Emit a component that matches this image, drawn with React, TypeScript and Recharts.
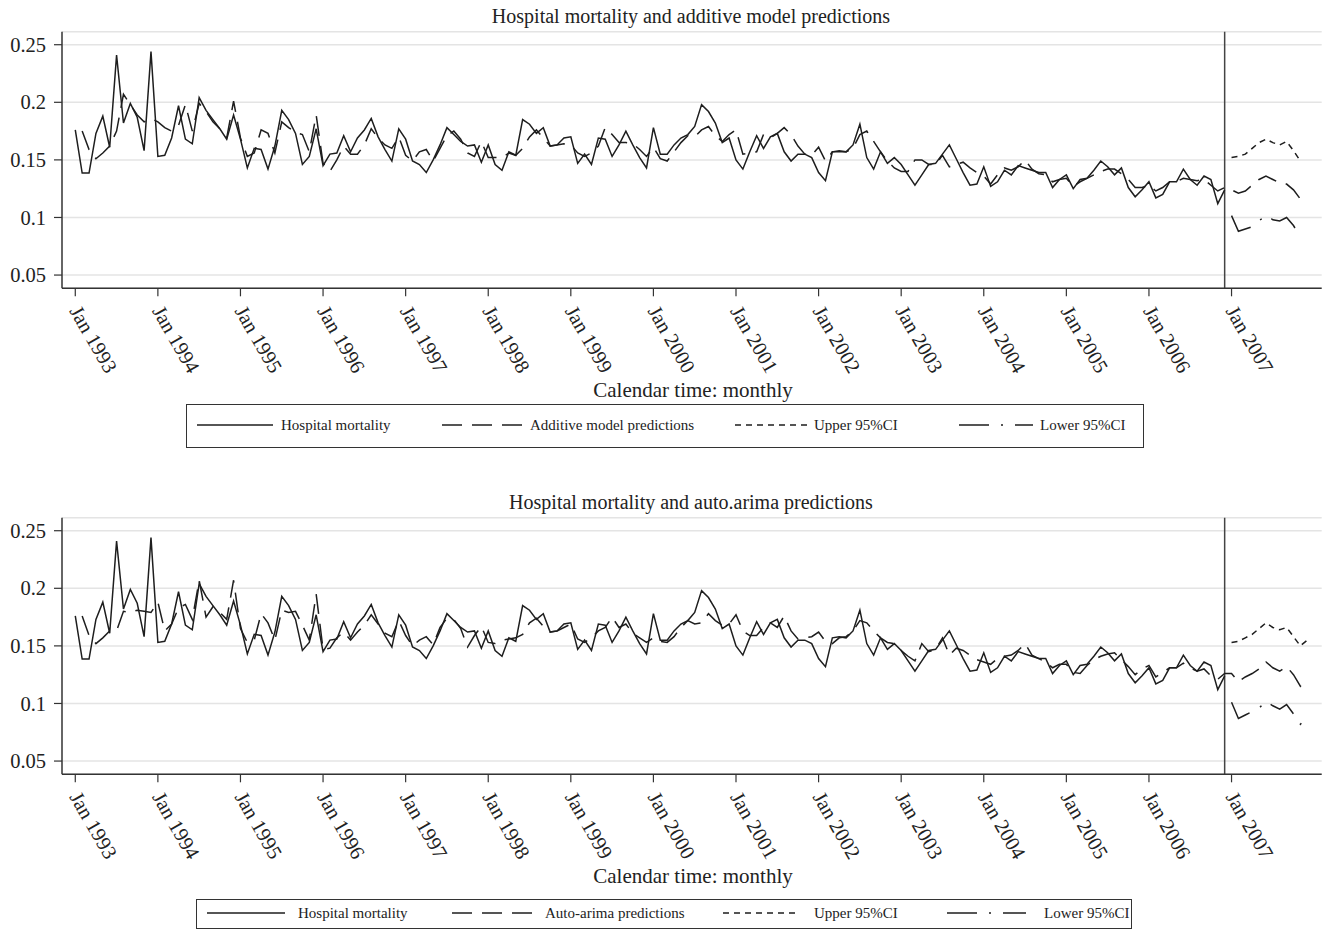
import React from 'react';
import { LineChart, Line, XAxis, YAxis, CartesianGrid, ReferenceLine } from 'recharts';

// ---------- data ----------
const tickMonthIndex = [0, 12, 24, 36, 48, 60, 72, 84, 96, 108, 120, 132, 144, 156, 168];
const tickLabels = ['Jan 1993', 'Jan 1994', 'Jan 1995', 'Jan 1996', 'Jan 1997', 'Jan 1998', 'Jan 1999', 'Jan 2000', 'Jan 2001', 'Jan 2002', 'Jan 2003', 'Jan 2004', 'Jan 2005', 'Jan 2006', 'Jan 2007'];
const yTicks = [0.05, 0.1, 0.15, 0.2, 0.25];
const yTickLabels = ['0.05', '0.1', '0.15', '0.2', '0.25'];
const forecastStart = 168;
const lastObsMonth = 167;

// Hospital mortality, Jan 1993 - Dec 2006 (monthly)
const hospitalMortality = [
  0.176, 0.1386, 0.1386, 0.173, 0.188, 0.161, 0.241, 0.182, 0.199, 0.187, 0.158, 0.244,
  0.153, 0.154, 0.169, 0.197, 0.168, 0.164, 0.204, 0.193, 0.185, 0.177, 0.168, 0.189,
  0.168, 0.143, 0.160, 0.159, 0.142, 0.162, 0.193, 0.185, 0.173, 0.146, 0.153, 0.177,
  0.145, 0.155, 0.156, 0.171, 0.157, 0.169, 0.176, 0.186, 0.170, 0.159, 0.149, 0.177,
  0.168, 0.149, 0.146, 0.139, 0.150, 0.163, 0.178, 0.172, 0.166, 0.162, 0.163, 0.148,
  0.163, 0.146, 0.141, 0.157, 0.154, 0.185, 0.181, 0.173, 0.178, 0.162, 0.163, 0.169,
  0.170, 0.147, 0.155, 0.146, 0.169, 0.168, 0.153, 0.163, 0.175, 0.163, 0.152, 0.143,
  0.178, 0.155, 0.155, 0.163, 0.169, 0.172, 0.179, 0.198, 0.192, 0.182, 0.165, 0.169,
  0.150, 0.142, 0.157, 0.171, 0.160, 0.170, 0.173, 0.157, 0.149, 0.155, 0.155, 0.152,
  0.139, 0.132, 0.157, 0.158, 0.157, 0.163, 0.181, 0.152, 0.142, 0.157, 0.147, 0.152,
  0.146, 0.137, 0.128, 0.137, 0.146, 0.147, 0.155, 0.163, 0.151, 0.139, 0.128, 0.129,
  0.144, 0.127, 0.131, 0.141, 0.137, 0.145, 0.143, 0.141, 0.139, 0.139, 0.126, 0.133,
  0.137, 0.125, 0.133, 0.134, 0.141, 0.149, 0.144, 0.137, 0.143, 0.126, 0.118, 0.124,
  0.131, 0.117, 0.120, 0.131, 0.131, 0.142, 0.133, 0.128, 0.136, 0.133, 0.112, 0.124,
];

// Additive model predictions, Feb 1993 - Nov 2007 (index 0 = Jan 1993 has none)
const additivePredictions = [
  null, 0.175, 0.159, 0.151, 0.156, 0.162, 0.175, 0.207, 0.198, 0.189, 0.183, 0.186,
  0.183, 0.178, 0.175, 0.180, 0.198, 0.175, 0.199, 0.192, 0.183, 0.177, 0.169, 0.201,
  0.169, 0.153, 0.156, 0.176, 0.173, 0.156, 0.183, 0.178, 0.174, 0.172, 0.157, 0.189,
  0.147, 0.140, 0.150, 0.162, 0.155, 0.155, 0.163, 0.177, 0.169, 0.163, 0.160, 0.170,
  0.154, 0.149, 0.157, 0.159, 0.149, 0.160, 0.171, 0.175, 0.168, 0.156, 0.153, 0.166,
  0.152, 0.152, 0.152, 0.156, 0.154, 0.160, 0.170, 0.176, 0.169, 0.162, 0.163, 0.164,
  0.163, 0.156, 0.153, 0.156, 0.162, 0.178, 0.172, 0.165, 0.165, 0.164, 0.159, 0.153,
  0.161, 0.151, 0.149, 0.157, 0.165, 0.171, 0.170, 0.176, 0.179, 0.171, 0.166, 0.172,
  0.176, 0.155, 0.156, 0.157, 0.172, 0.169, 0.173, 0.178, 0.172, 0.162, 0.155, 0.154,
  0.161, 0.149, 0.157, 0.157, 0.157, 0.160, 0.172, 0.175, 0.166, 0.157, 0.149, 0.143,
  0.140, 0.140, 0.150, 0.150, 0.146, 0.146, 0.154, 0.144, 0.146, 0.148, 0.143, 0.139,
  0.136, 0.129, 0.137, 0.143, 0.141, 0.144, 0.150, 0.142, 0.138, 0.137, 0.131, 0.133,
  0.134, 0.127, 0.131, 0.134, 0.137, 0.140, 0.142, 0.142, 0.138, 0.133, 0.126, 0.126,
  0.128, 0.123, 0.126, 0.131, 0.131, 0.134, 0.133, 0.132, 0.133, 0.128, 0.123, 0.126,
  0.124, 0.121, 0.123, 0.128, 0.133, 0.136, 0.133, 0.130, 0.129, 0.124, 0.116,
];
// 2007 forecast intervals (from Jan 2007)
const additiveUpper = [0.152, 0.153, 0.155, 0.160, 0.165, 0.168, 0.165, 0.163, 0.166, 0.158, 0.149];
const additiveLower = [0.1016, 0.088, 0.090, 0.092, 0.097, 0.102, 0.098, 0.097, 0.100, 0.093, 0.083];

// auto.arima predictions, Feb 1993 - Dec 2007
const arimaPredictions = [
  null, 0.176, 0.159, 0.152, 0.157, 0.163, 0.163, 0.180, 0.179, 0.181, 0.180, 0.179,
  0.188, 0.163, 0.169, 0.183, 0.186, 0.173, 0.207, 0.175, 0.184, 0.179, 0.173, 0.207,
  0.165, 0.153, 0.155, 0.178, 0.170, 0.155, 0.181, 0.179, 0.180, 0.168, 0.155, 0.195,
  0.147, 0.148, 0.157, 0.162, 0.155, 0.162, 0.168, 0.177, 0.169, 0.161, 0.158, 0.172,
  0.159, 0.150, 0.155, 0.158, 0.151, 0.166, 0.174, 0.173, 0.165, 0.149, 0.159, 0.167,
  0.153, 0.152, 0.155, 0.156, 0.157, 0.160, 0.170, 0.174, 0.167, 0.162, 0.163, 0.166,
  0.169, 0.156, 0.153, 0.157, 0.163, 0.166, 0.175, 0.166, 0.169, 0.161, 0.157, 0.153,
  0.157, 0.154, 0.153, 0.158, 0.166, 0.172, 0.169, 0.170, 0.178, 0.172, 0.168, 0.169,
  0.177, 0.163, 0.159, 0.159, 0.166, 0.170, 0.166, 0.176, 0.163, 0.156, 0.157, 0.158,
  0.162, 0.154, 0.152, 0.157, 0.158, 0.163, 0.172, 0.170, 0.163, 0.157, 0.153, 0.152,
  0.146, 0.141, 0.137, 0.152, 0.145, 0.147, 0.157, 0.142, 0.148, 0.146, 0.142, 0.138,
  0.136, 0.134, 0.139, 0.141, 0.142, 0.146, 0.152, 0.142, 0.139, 0.136, 0.131, 0.134,
  0.134, 0.127, 0.126, 0.133, 0.138, 0.141, 0.143, 0.144, 0.138, 0.132, 0.125, 0.130,
  0.133, 0.123, 0.127, 0.131, 0.131, 0.135, 0.131, 0.128, 0.130, 0.124, 0.121, 0.126,
  0.126, 0.119, 0.123, 0.126, 0.130, 0.136, 0.131, 0.128, 0.132, 0.125, 0.115, 0.122,
];
const arimaUpper = [0.153, 0.154, 0.157, 0.160, 0.165, 0.170, 0.166, 0.164, 0.166, 0.158, 0.150, 0.155];
const arimaLower = [0.101, 0.087, 0.090, 0.093, 0.096, 0.102, 0.098, 0.095, 0.099, 0.091, 0.082, 0.088];

// ---------- helpers ----------
const SERIF = "'Liberation Serif', 'Times New Roman', Times, serif";
const INK = '#1e1e1e';
const N_MONTHS = 180;

function buildRows(pred: (number | null)[], upper: number[], lower: number[]) {
  const rows: any[] = [];
  for (let i = 0; i < N_MONTHS; i++) {
    rows.push({
      t: i,
      obs: i < hospitalMortality.length ? hospitalMortality[i] : null,
      pred: i < pred.length ? pred[i] : null,
      upper: i >= forecastStart && i - forecastStart < upper.length ? upper[i - forecastStart] : null,
      lower: i >= forecastStart && i - forecastStart < lower.length ? lower[i - forecastStart] : null,
    });
  }
  return rows;
}

const XTick = (props: any) => {
  const { x, y, payload } = props;
  const idx = tickMonthIndex.indexOf(payload.value);
  const label = idx >= 0 ? tickLabels[idx] : '';
  return (
    <g transform={`translate(${x},${y})`}>
      <text
        transform="rotate(60)"
        x={0}
        y={0}
        dy="0.35em"
        textAnchor="start"
        fill="#222"
        fontSize={20.5}
        fontFamily={SERIF}
      >
        {label}
      </text>
    </g>
  );
};

const YTick = (props: any) => {
  const { x, y, payload } = props;
  const idx = yTicks.indexOf(payload.value);
  return (
    <text x={x} y={y} dy="0.35em" textAnchor="end" fill="#222" fontSize={20.5} fontFamily={SERIF}>
      {idx >= 0 ? yTickLabels[idx] : ''}
    </text>
  );
};

type LegendItem = { dash: string | undefined; x1: number; x2: number; text: string; tx: number };

function LegendBox({ left, top, width, height, items }: { left: number; top: number; width: number; height: number; items: LegendItem[] }) {
  const cy = height / 2 - 1;
  return (
    <div style={{ position: 'absolute', left, top, width, height, border: '1px solid #333', boxSizing: 'border-box', background: '#fff' }}>
      <svg width={width} height={height} style={{ position: 'absolute', left: -1, top: -1 }}>
        {items.map((it, k) => (
          <line key={k} x1={it.x1 - left} x2={it.x2 - left} y1={cy} y2={cy} stroke={INK} strokeWidth={1.5} strokeDasharray={it.dash} />
        ))}
      </svg>
      {items.map((it, k) => (
        <div
          key={'t' + k}
          style={{ position: 'absolute', left: it.tx - left - 1, top: -1, height: height - 2, lineHeight: `${height - 2}px`, fontFamily: SERIF, fontSize: 15, color: '#222', whiteSpace: 'nowrap' }}
        >
          {it.text}
        </div>
      ))}
    </div>
  );
}

function Panel({ offsetY, title, rows, legendItems, legendBox }: any) {
  return (
    <>
      <div style={{ position: 'absolute', left: 0, top: offsetY, width: 1327 }}>
        <LineChart width={1327} height={400} data={rows} margin={{ top: 31.7, right: 5.3, bottom: 11.7, left: 0 }}>
          <CartesianGrid horizontal={true} vertical={false} stroke="#e4e4e4" strokeWidth={1.5} />
          <XAxis
            dataKey="t"
            type="number"
            domain={[-1.93, 181.1]}
            ticks={tickMonthIndex}
            interval={0}
            allowDataOverflow={true}
            height={100}
            tickSize={8}
            tickMargin={11}
            axisLine={{ stroke: '#333', strokeWidth: 1.5 }}
            tickLine={{ stroke: '#333', strokeWidth: 1.2 }}
            tick={<XTick />}
          />
          <YAxis
            type="number"
            domain={[0.0385, 0.2613]}
            ticks={yTicks}
            interval={0}
            allowDataOverflow={true}
            width={62}
            tickSize={8}
            tickMargin={8}
            axisLine={{ stroke: '#333', strokeWidth: 1.5 }}
            tickLine={{ stroke: '#333', strokeWidth: 1.2 }}
            tick={<YTick />}
          />
          <ReferenceLine x={lastObsMonth} stroke="#444" strokeWidth={1.5} />
          <Line type="linear" dataKey="obs" stroke={INK} strokeWidth={1.5} dot={false} activeDot={false} isAnimationActive={false} connectNulls={false} />
          <Line type="linear" dataKey="pred" stroke={INK} strokeWidth={1.5} strokeDasharray="20 10" dot={false} activeDot={false} isAnimationActive={false} connectNulls={false} />
          <Line type="linear" dataKey="upper" stroke={INK} strokeWidth={1.5} strokeDasharray="6 5" dot={false} activeDot={false} isAnimationActive={false} connectNulls={false} />
          <Line type="linear" dataKey="lower" stroke={INK} strokeWidth={1.5} strokeDasharray="30 12 2 12" dot={false} activeDot={false} isAnimationActive={false} connectNulls={false} />
        </LineChart>
      </div>
      <div style={{ position: 'absolute', left: 0, top: offsetY + 4, width: 1382, textAlign: 'center', fontFamily: SERIF, fontSize: 20, color: '#222', lineHeight: '24px' }}>
        {title}
      </div>
      <div style={{ position: 'absolute', left: 0, top: offsetY + 378, width: 1386, textAlign: 'center', fontFamily: SERIF, fontSize: 21, color: '#222', lineHeight: '24px' }}>
        Calendar time: monthly
      </div>
      <LegendBox {...legendBox} items={legendItems} />
    </>
  );
}

const topRows = buildRows(additivePredictions, additiveUpper, additiveLower);
const bottomRows = buildRows(arimaPredictions, arimaUpper, arimaLower);

const topLegend: LegendItem[] = [
  { dash: undefined, x1: 197, x2: 273, text: 'Hospital mortality', tx: 281 },
  { dash: '20 10', x1: 442, x2: 522, text: 'Additive model predictions', tx: 530 },
  { dash: '6 5', x1: 735, x2: 808, text: 'Upper 95%CI', tx: 814 },
  { dash: '30 12 2 12', x1: 959, x2: 1033, text: 'Lower 95%CI', tx: 1040 },
];
const bottomLegend: LegendItem[] = [
  { dash: undefined, x1: 207, x2: 285, text: 'Hospital mortality', tx: 298 },
  { dash: '20 10', x1: 452, x2: 532, text: 'Auto-arima predictions', tx: 545 },
  { dash: '6 5', x1: 723, x2: 800, text: 'Upper 95%CI', tx: 814 },
  { dash: '30 12 2 12', x1: 947, x2: 1026, text: 'Lower 95%CI', tx: 1044 },
];

export default function App() {
  return (
    <div style={{ position: 'absolute', left: 0, top: 0, width: 1327, height: 932, background: '#fff', overflow: 'hidden' }}>
      <Panel
        offsetY={0}
        title="Hospital mortality and additive model predictions"
        rows={topRows}
        legendItems={topLegend}
        legendBox={{ left: 186, top: 404, width: 958, height: 44 }}
      />
      <Panel
        offsetY={485.6}
        title="Hospital mortality and auto.arima predictions"
        rows={bottomRows}
        legendItems={bottomLegend}
        legendBox={{ left: 196, top: 899, width: 936, height: 30 }}
      />
    </div>
  );
}
